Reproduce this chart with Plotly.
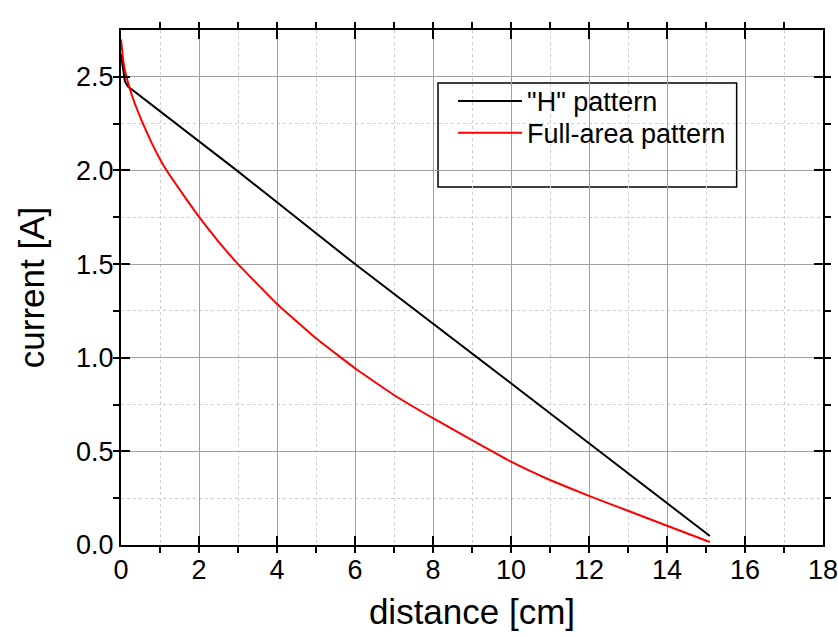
import plotly.graph_objects as go

# Data
h_distance = [0.0, 0.1, 0.18, 3.0, 6.0, 8.0, 10.0, 12.0, 14.0, 15.1]
h_current = [2.62, 2.475, 2.448, 1.995, 1.5, 1.184, 0.864, 0.543, 0.223, 0.048]

full_distance = [0.0, 0.05, 0.1, 0.22, 0.35, 0.52, 0.78, 1.0, 1.2, 1.63, 2.0, 2.5, 3.0,
                 4.0, 5.0, 6.0, 7.0, 8.0, 9.0, 10.0, 11.0, 12.0, 13.0, 14.0, 15.1]
full_current = [2.70, 2.60, 2.535, 2.44, 2.36, 2.27, 2.15, 2.06, 1.99, 1.86, 1.752, 1.62, 1.50,
                1.287, 1.104, 0.944, 0.801, 0.677, 0.56, 0.445, 0.347, 0.262, 0.183, 0.103, 0.016]

series_names = ['"H" pattern', "Full-area pattern"]
x_title = "distance [cm]"
y_title = "current [A]"

FONT = "Liberation Sans, Arial, sans-serif"

fig = go.Figure()
fig.add_trace(go.Scatter(x=h_distance, y=h_current, mode="lines", name=series_names[0],
                         line=dict(color="black", width=2), legend="legend"))
fig.add_trace(go.Scatter(x=full_distance, y=full_current, mode="lines", name=series_names[1],
                         line=dict(color="#ff0000", width=2, shape="spline", smoothing=0.3),
                         legend="legend2"))

axis_common = dict(
    showline=True, linecolor="black", linewidth=2, mirror="allticks",
    ticks="inside", ticklen=9, tickwidth=2, tickcolor="black",
    showgrid=True, gridcolor="#a0a0a0", gridwidth=1,
    zeroline=False,
    tickfont=dict(family=FONT, size=27, color="black"),
    title_font=dict(family=FONT, size=35, color="black"),
    ticklabeloverflow="allow",
    automargin=False,
)

fig.update_xaxes(
    range=[0, 18], dtick=2, tick0=0,
    title_text=x_title, title_standoff=15,
    minor=dict(dtick=1, ticks="outside", ticklen=6, tickwidth=2, tickcolor="black",
               showgrid=True, gridcolor="#cdcdcd", griddash="dot", gridwidth=1),
    **axis_common,
)
fig.update_yaxes(
    range=[0, 2.75], dtick=0.5, tick0=0, tickformat=".1f",
    title_text=y_title, title_standoff=21,
    minor=dict(dtick=0.25, ticks="outside", ticklen=6, tickwidth=2, tickcolor="black",
               showgrid=True, gridcolor="#cdcdcd", griddash="dot", gridwidth=1),
    **axis_common,
)

fig.add_shape(type="rect", xref="paper", yref="paper",
              x0=0.4516, x1=0.877, y0=0.695, y1=0.897,
              line=dict(color="black", width=1.5), fillcolor="white", layer="below")

legend_common = dict(xanchor="left", yanchor="top", bgcolor="rgba(0,0,0,0)", borderwidth=0,
                     font=dict(family=FONT, size=27, color="black"), itemwidth=64)

fig.update_layout(
    width=838, height=638,
    margin=dict(l=121, r=15, t=30, b=93, autoexpand=False),
    paper_bgcolor="white", plot_bgcolor="rgba(0,0,0,0)",
    font=dict(family=FONT, color="black"),
    showlegend=True,
    legend=dict(x=0.473, y=0.909, **legend_common),
    legend2=dict(x=0.473, y=0.847, **legend_common),
)

fig.write_html("out.html")
